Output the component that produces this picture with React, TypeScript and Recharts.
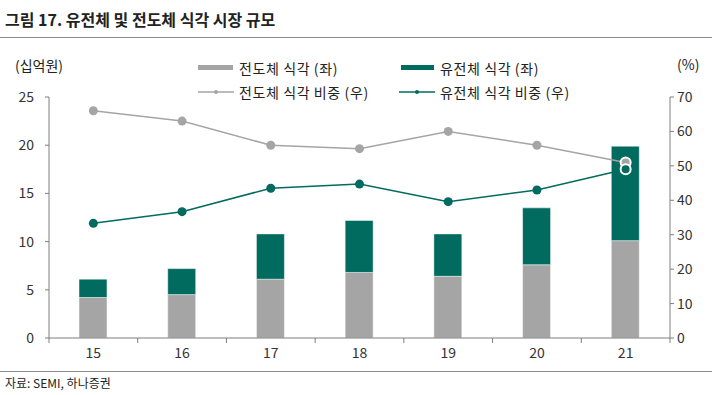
import React from 'react';
import { Bar, ComposedChart, Line, XAxis, YAxis } from 'recharts';

const years = ['15', '16', '17', '18', '19', '20', '21'];
const conductorEtch = [4.2, 4.5, 6.1, 6.8, 6.4, 7.6, 10.1];
const dielectricEtch = [1.9, 2.7, 4.7, 5.4, 4.4, 5.9, 9.8];
const conductorShare = [66, 63, 56, 55, 60, 56, 51];
const dielectricShare = [33.3, 36.7, 43.5, 44.7, 39.6, 43, 49];
const leftTicks = [0, 5, 10, 15, 20, 25];
const rightTicks = [0, 10, 20, 30, 40, 50, 60, 70];

const GRAY = '#A5A5A5';
const GREEN = '#006B5E';
const AXIS = '#7F7F7F';
const FONT = '"Noto Sans CJK KR", "Noto Sans", sans-serif';

const data = years.map((y, i) => ({
  year: y,
  conductor: conductorEtch[i],
  dielectric: dielectricEtch[i],
  conductorShare: conductorShare[i],
  dielectricShare: dielectricShare[i],
}));

const XTick = (props: any) => {
  const { x, y, payload, index } = props;
  const half = payload.offset ?? 44.35;
  const last = index === years.length - 1;
  return (
    <g>
      <line x1={x - half} y1={y - 8} x2={x - half} y2={y - 3} stroke={AXIS} />
      {last && <line x1={x + half} y1={y - 8} x2={x + half} y2={y - 3} stroke={AXIS} />}
      <text x={x} y={y + 12} textAnchor="middle" fill="#333" fontSize={14} fontFamily={FONT}>
        {payload.value}
      </text>
    </g>
  );
};

const makeDot = (color: string) => (props: any) => {
  const { cx, cy, index } = props;
  if (index === years.length - 1) {
    return <circle key={index} cx={cx} cy={cy} r={5} fill={color} stroke="#fff" strokeWidth={2} />;
  }
  return <circle key={index} cx={cx} cy={cy} r={4.5} fill={color} />;
};

const tickStyle = { fill: '#333', fontSize: 14, fontFamily: FONT };

const legendText: React.CSSProperties = {
  position: 'absolute',
  fontSize: 14,
  letterSpacing: 0.6,
  lineHeight: '16px',
  whiteSpace: 'nowrap',
};

const LineSwatch = ({ color, left, top }: { color: string; left: number; top: number }) => (
  <svg width={36} height={6} style={{ position: 'absolute', left, top }}>
    <line x1={0} y1={3} x2={36} y2={3} stroke={color} strokeWidth={1.3} />
    <circle cx={18} cy={3} r={2} fill={color} />
  </svg>
);

export default function App() {
  return (
    <div style={{ position: 'absolute', left: 0, top: 0, width: 712, height: 395, background: '#fff', fontFamily: FONT, color: '#222' }}>
      <div style={{ position: 'absolute', left: 5, top: 8, fontSize: 16, fontWeight: 700, lineHeight: '22px', whiteSpace: 'nowrap' }}>
        그림 17. 유전체 및 전도체 식각 시장 규모
      </div>
      <div style={{ position: 'absolute', left: 0, top: 37, width: 712, height: 1, background: '#8C8C8C' }} />
      <div style={{ position: 'absolute', left: 15, top: 57, fontSize: 14, lineHeight: '16px' }}>(십억원)</div>
      <div style={{ position: 'absolute', left: 677, top: 56, fontSize: 14, lineHeight: '16px' }}>(%)</div>

      <div style={{ position: 'absolute', left: 198, top: 65, width: 35, height: 5, background: GRAY }} />
      <div style={{ ...legendText, left: 239, top: 60 }}>전도체 식각 (좌)</div>
      <div style={{ position: 'absolute', left: 401, top: 65, width: 33, height: 5, background: GREEN }} />
      <div style={{ ...legendText, left: 440, top: 60 }}>유전체 식각 (좌)</div>
      <LineSwatch color={GRAY} left={198} top={89} />
      <div style={{ ...legendText, left: 239, top: 84 }}>전도체 식각 비중 (우)</div>
      <LineSwatch color={GREEN} left={399} top={89} />
      <div style={{ ...legendText, left: 440, top: 84 }}>유전체 식각 비중 (우)</div>

      <div style={{ position: 'absolute', left: 0, top: 0 }}>
        <ComposedChart
          width={712}
          height={395}
          data={data}
          barCategoryGap={0}
          margin={{ top: 97, right: 0, left: 0, bottom: 27 }}
        >
          <XAxis
            dataKey="year"
            height={30}
            axisLine={{ stroke: AXIS }}
            tickLine={false}
            interval={0}
            tick={<XTick />}
          />
          <YAxis
            yAxisId="left"
            domain={[0, 25]}
            ticks={leftTicks}
            width={49}
            axisLine={{ stroke: AXIS }}
            tickLine={{ stroke: AXIS }}
            tickSize={4}
            tickMargin={11}
            tick={tickStyle}
          />
          <YAxis
            yAxisId="right"
            orientation="right"
            domain={[0, 70]}
            ticks={rightTicks}
            width={42}
            axisLine={{ stroke: AXIS }}
            tickLine={{ stroke: AXIS }}
            tickSize={4}
            tickMargin={3}
            tick={tickStyle}
          />
          <Bar yAxisId="left" dataKey="conductor" stackId="a" fill={GRAY} barSize={28} stroke="#fff" strokeWidth={0.5} isAnimationActive={false} />
          <Bar yAxisId="left" dataKey="dielectric" stackId="a" fill={GREEN} barSize={28} stroke="#fff" strokeWidth={0.5} isAnimationActive={false} />
          <Line
            yAxisId="right"
            dataKey="conductorShare"
            stroke={GRAY}
            strokeWidth={1.5}
            dot={makeDot(GRAY)}
            activeDot={false}
            isAnimationActive={false}
          />
          <Line
            yAxisId="right"
            dataKey="dielectricShare"
            stroke={GREEN}
            strokeWidth={1.5}
            dot={makeDot(GREEN)}
            activeDot={false}
            isAnimationActive={false}
          />
        </ComposedChart>
      </div>

      <div style={{ position: 'absolute', left: 0, top: 371, width: 712, height: 1, background: '#8C8C8C' }} />
      <div style={{ position: 'absolute', left: 5, top: 375, fontSize: 12, lineHeight: '16px', whiteSpace: 'nowrap' }}>자료: SEMI, 하나증권</div>
    </div>
  );
}
